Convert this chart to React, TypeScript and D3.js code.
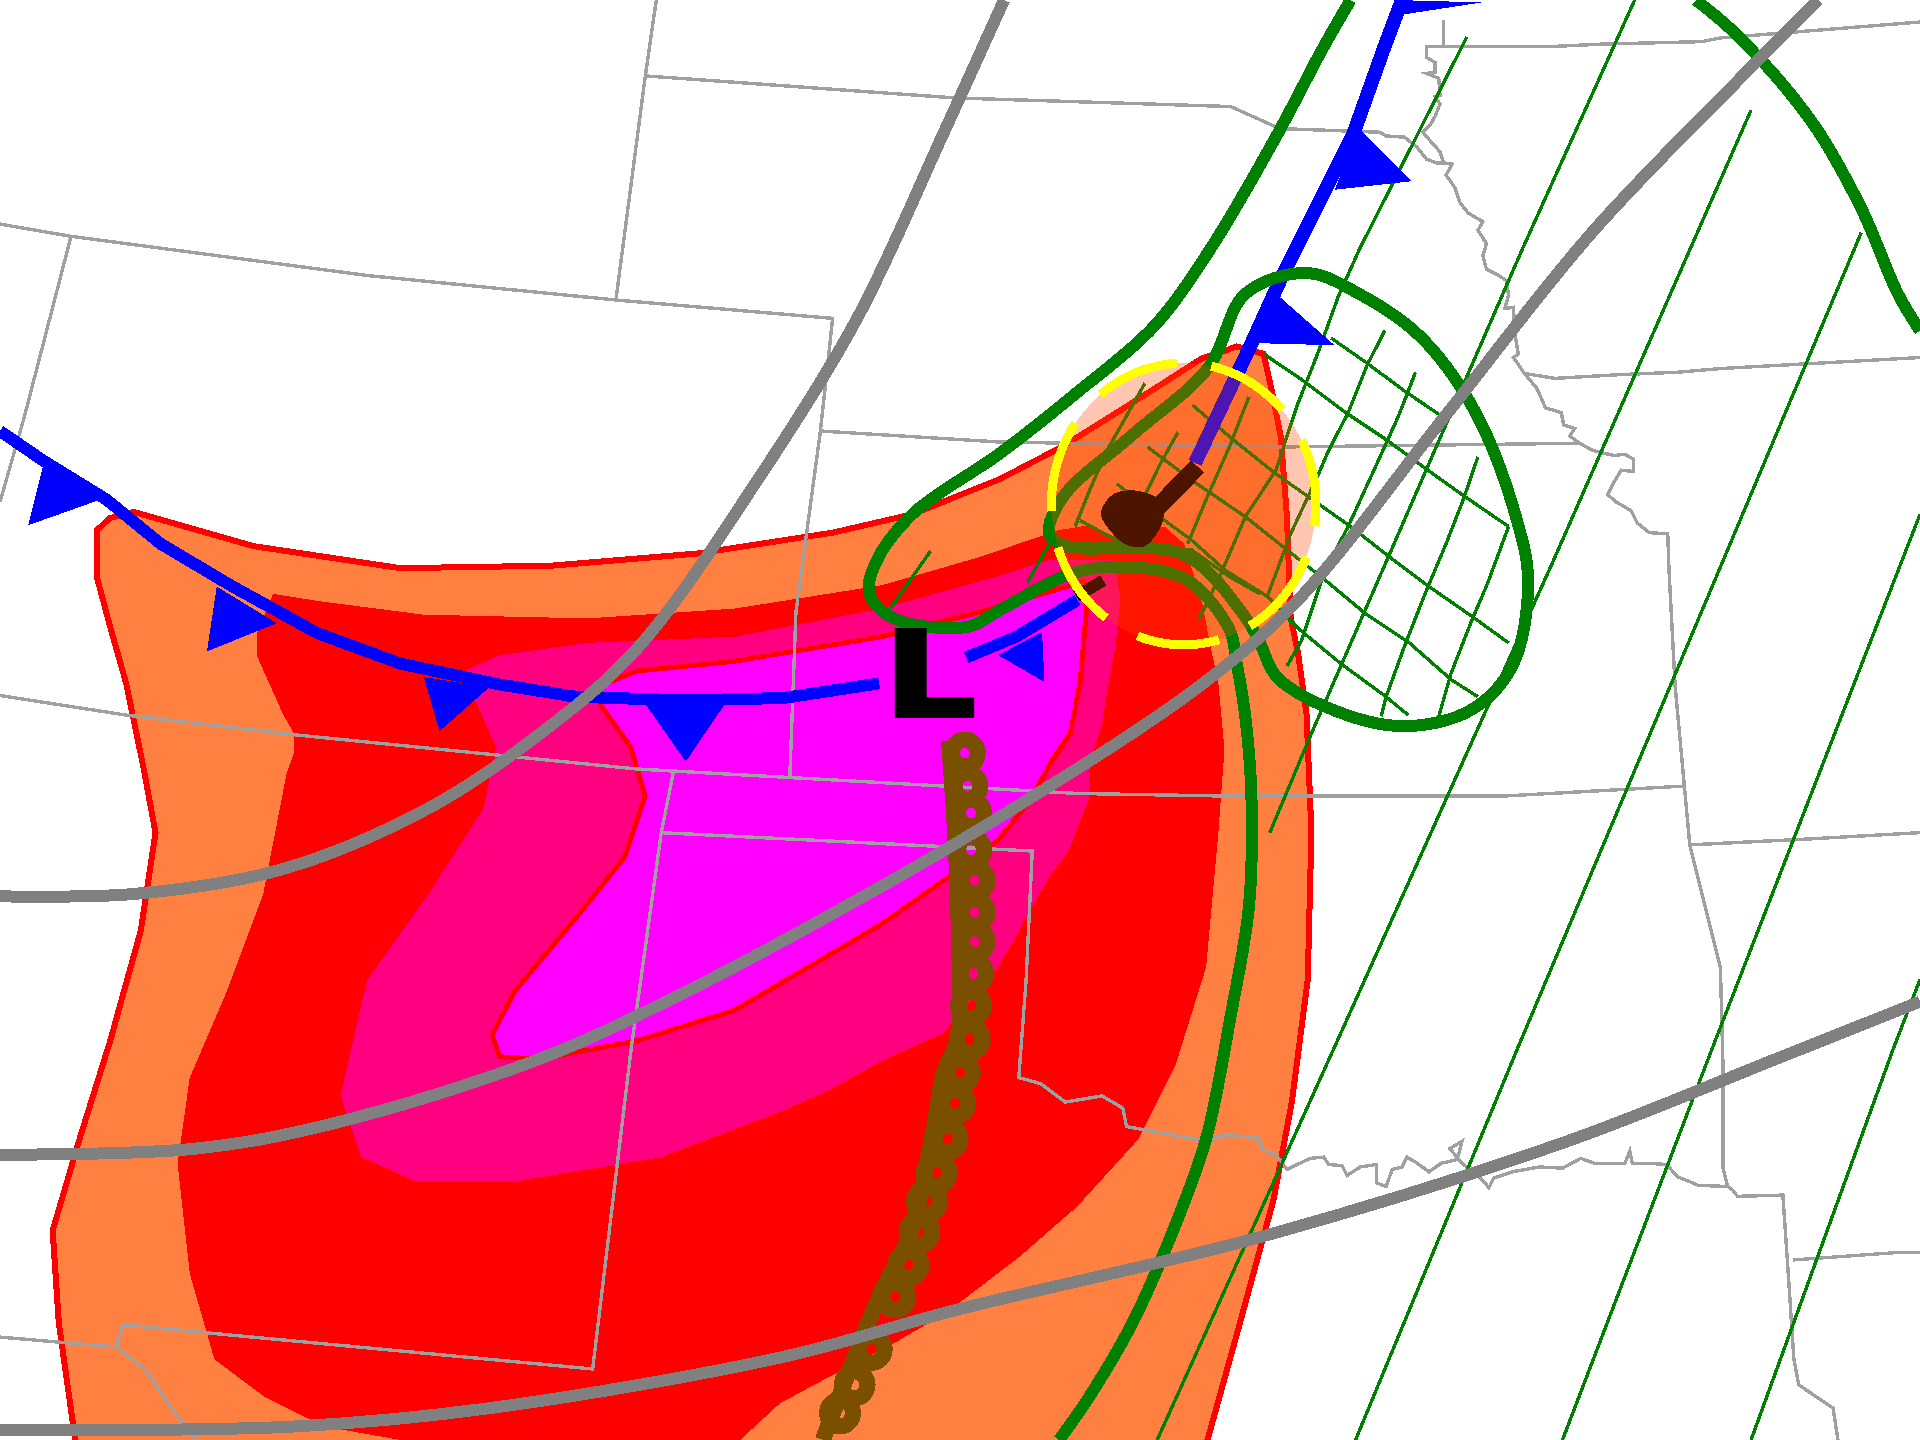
import React from "react";
import * as d3 from "d3";

type P = [number, number];

const WIDTH = 1920, HEIGHT = 1440;
const srcW = 1568, srcH = 1176;

const orangeArea: P[] = [[90,423],[109,418],[207,446],[327,464],[450,462],[570,452],[680,435],[745,420],[817,391],[867,365],[920,332],[981,293],[1010,283],[1032,289],[1039,321],[1046,357],[1051,422],[1054,504],[1060,533],[1067,583],[1071,680],[1068,800],[1055,900],[1040,980],[1010,1090],[985,1180],[62,1180],[48,1080],[43,1005],[65,930],[90,850],[115,760],[127,680],[117,626],[103,558],[90,512],[79,471],[79,433]];
const redArea: P[] = [[223,485],[261,491],[346,502],[480,505],[600,497],[720,478],[800,455],[864,433],[889,429],[910,438],[951,430],[967,444],[982,493],[988,525],[995,558],[1000,612],[995,680],[985,790],[960,870],[930,930],[880,985],[833,1026],[773,1072],[730,1097],[678,1124],[637,1146],[600,1180],[350,1180],[265,1165],[215,1140],[175,1110],[155,1040],[145,950],[155,880],[185,810],[215,730],[234,632],[240,615],[240,599],[231,583],[210,536],[210,517]];
const pinkArea: P[] = [[381,547],[408,535],[480,525],[600,520],[720,497],[817,470],[857,457],[910,457],[915,490],[911,528],[904,565],[900,592],[890,622],[889,653],[873,694],[857,716],[838,749],[827,770],[813,793],[770,844],[721,866],[678,890],[637,908],[540,945],[420,965],[340,965],[295,945],[278,895],[300,800],[350,730],[395,660],[405,610],[389,574],[375,555]];
const magentaArea: P[] = [[490,560],[520,548],[600,540],[720,520],[800,500],[885,475],[888,490],[882,558],[874,599],[858,623],[842,653],[815,686],[775,716],[721,754],[694,770],[600,825],[520,850],[440,865],[408,863],[402,845],[420,810],[470,750],[510,700],[527,650],[515,610],[490,575]];

const stateLines: P[][] = [
  [[536,0],[527,62],[503,245]],
  [[527,62],[780,80],[1005,87],[1045,105],[1127,108],[1132,111],[1147,112],[1157,120],[1165,130],[1173,133],[1186,134]],
  [[0,183],[58,193],[300,225],[503,245],[680,260],[670,352],[650,500],[645,635]],
  [[58,193],[20,340],[0,410]],
  [[670,352],[817,361],[1050,365],[1290,362]],
  [[1179,16],[1179,38]],
  [[1568,18],[1405,31],[1390,34],[1309,36],[1267,38],[1165,38],[1165,47],[1172,51],[1172,59],[1165,60],[1175,64],[1176,78],[1172,79],[1176,85],[1172,95],[1168,102],[1162,108],[1168,115],[1176,124],[1179,133],[1186,134],[1181,143],[1188,153],[1192,165],[1199,174],[1211,181],[1207,188],[1214,199],[1211,209],[1214,220],[1224,225],[1230,229],[1232,241],[1229,252],[1236,251],[1237,272],[1240,289],[1236,292],[1245,305],[1255,317],[1260,328],[1262,333],[1275,337],[1277,347],[1286,350],[1282,356],[1290,362],[1301,368],[1318,372],[1327,371],[1334,375],[1334,385],[1324,384],[1318,394],[1313,404],[1320,410],[1332,417],[1337,427],[1347,435],[1362,436],[1363,465],[1368,560],[1380,690],[1405,790],[1407,866],[1407,953],[1411,969],[1415,972],[1419,977],[1456,976],[1460,1034],[1465,1110],[1469,1131],[1497,1150],[1501,1176]],
  [[1245,305],[1270,309],[1322,306],[1370,304],[1405,301],[1568,292]],
  [[0,568],[103,584],[240,600],[520,628],[645,635],[880,648],[995,650],[1230,650],[1375,642]],
  [[1380,690],[1480,685],[1568,680]],
  [[1464,1029],[1548,1023],[1568,1023]],
  [[550,630],[540,680],[515,860],[484,1118],[100,1082],[95,1100],[0,1092]],
  [[95,1100],[120,1120],[140,1150],[160,1176]],
  [[540,680],[843,695],[838,800],[832,880],[850,885],[870,900],[900,895],[917,905],[920,920],[975,930],[987,932],[999,927],[1027,929],[1031,939],[1042,943],[1051,955],[1070,946],[1081,945],[1085,951],[1096,952],[1100,960],[1111,953],[1124,951],[1124,966],[1132,969],[1137,955],[1145,953],[1149,945],[1156,949],[1167,957],[1177,950],[1190,947],[1194,932],[1184,938],[1194,950],[1209,962],[1216,970],[1220,962],[1235,957],[1257,953],[1276,954],[1291,946],[1302,950],[1327,950],[1331,940],[1333,950],[1346,950],[1361,951],[1370,961],[1387,968],[1411,969]],
];

const hatchSteep: P[][] = [
  [[1198,30],[1110,204],[1093,242],[1076,289],[1059,332],[1042,384],[1017,422],[996,471],[979,506]],
  [[1131,270],[1117,297],[1101,337],[1085,368],[1076,389],[1054,436],[1035,487]],
  [[1156,304],[1142,340],[1117,395],[1101,430],[1082,466],[1063,523],[1051,544]],
  [[1207,373],[1195,408],[1181,444],[1165,482],[1148,525],[1132,569],[1128,585]],
  [[1232,430],[1215,476],[1201,509],[1185,550],[1175,585]],
  [[1020,324],[1004,365],[985,408],[970,444]],
  [[962,353],[948,378],[932,411],[917,444]],
  [[935,313],[904,368],[890,400],[878,430]],
  [[857,444],[839,476]],
  [[760,450],[727,497]],
];
const hatchShallow: P[][] = [
  [[1032,289],[1063,310],[1099,337],[1132,359],[1173,389],[1197,406],[1232,430]],
  [[1087,276],[1117,297],[1148,320],[1182,343]],
  [[974,331],[1007,359],[1042,387],[1076,411],[1103,430],[1135,455],[1167,479],[1203,504],[1232,525]],
  [[937,365],[973,392],[1017,422],[1051,449],[1085,476],[1115,501],[1151,525],[1185,555],[1207,569]],
  [[912,395],[932,411],[973,441],[1001,466],[1035,487],[1060,513],[1095,542],[1132,569],[1150,584]],
  [[882,425],[917,444],[973,449],[1004,471],[1029,485]],
];
const longThin: P[][] = [
  [[1335,0],[1243,204],[1071,599],[1037,680]],
  [[1430,90],[1269,457],[1089,857],[945,1176]],
  [[1520,190],[1239,857],[1107,1176]],
  [[1568,420],[1398,857],[1276,1176]],
  [[1568,800],[1546,857],[1430,1176]],
];

const greenFront: P[] = [[1103,0],[1080,40],[1043,110],[988,204],[942,267],[879,321],[817,370],[745,420],[715,460],[710,485],[730,505],[790,512],[817,498],[876,468],[923,463],[970,474],[1004,514],[1010,542],[1017,585],[1022,650],[1020,740],[1005,830],[985,930],[960,1000],[925,1080],[890,1140],[865,1176]];
const greenLoop: P[] = [[1017,240],[1067,223],[1110,240],[1160,275],[1204,335],[1238,422],[1248,476],[1235,544],[1201,580],[1145,593],[1082,577],[1042,552],[1029,525],[1017,504],[967,453],[871,446],[857,436],[868,406],[925,355],[987,300]];
const greenRight: P[] = [[1385,0],[1420,30],[1480,100],[1520,170],[1550,240],[1568,270]];

const blueWest: P[] = [[0,352],[35,376],[87,408],[131,444],[190,479],[259,517],[327,542],[408,559],[470,569],[560,572],[640,570],[718,558]];
const blueEast: P[] = [[789,537],[830,520],[880,490]];
const blueNorth: P[] = [[1145,0],[1130,40],[1105,110],[1075,170],[1045,230],[1020,285],[976,378]];
const blueTeeth: P[][] = [
  [[23,429],[35,381],[82,408]],
  [[169,532],[177,479],[226,509]],
  [[359,597],[346,553],[400,561]],
  [[560,622],[527,575],[592,575]],
  [[815,535],[851,516],[853,557]],
  [[1140,0],[1145,12],[1210,2]],
  [[1110,105],[1090,155],[1153,148]],
  [[1040,238],[1018,280],[1090,282]],
];

const trackLine: P[] = [[935,425],[978,381]];
const trackLineLow: P[] = [[879,487],[901,474]];
const trackBlob: P[] = [[899,419],[910,403],[930,401],[946,408],[950,424],[935,446],[920,445],[908,435]];

const brownLoops: P[] = [[788,615],[790,642],[793,664],[793,694],[796,719],[796,745],[796,769],[795,795],[793,821],[792,849],[784,876],[780,901],[774,930],[765,958],[757,981],[751,1006],[742,1033],[731,1059],[712,1102],[698,1131],[686,1154]];
const brownSpine: P[] = [[775,605],[780,680],[783,760],[782,849],[771,876],[761,930],[744,1006],[718,1059],[672,1176]];

const greyTrackA: P[] = [[820,0],[770,110],[700,260],[620,390],[520,530],[440,600],[350,660],[230,710],[110,730],[0,732]];
const greyTrackB: P[] = [[1485,0],[1430,55],[1300,190],[1180,340],[1060,490],[980,560],[820,665],[700,735],[560,810],[440,865],[270,918],[160,938],[0,943]];
const greyTrackC: P[] = [[1568,818],[1450,865],[1280,932],[1030,1010],[780,1070],[640,1108],[400,1150],[240,1165],[0,1168]];

const ringCentre: P = [966.7, 411.6];
const ringRadii: P = [108, 115];
const ringDashes: P[] = [[231,268],[282,319],[333,369],[22,60],[74.5,112],[126,163],[177,216]];

const labelText = "L";

const x = d3.scaleLinear().domain([0, srcW]).range([0, WIDTH]);
const y = d3.scaleLinear().domain([0, srcH]).range([0, HEIGHT]);
const straight = d3.line<P>().x((d) => x(d[0])).y((d) => y(d[1]));
const smooth = d3.line<P>().x((d) => x(d[0])).y((d) => y(d[1])).curve(d3.curveCatmullRom.alpha(0.5));
const smoothClosed = d3.line<P>().x((d) => x(d[0])).y((d) => y(d[1])).curve(d3.curveCatmullRomClosed.alpha(0.5));

const ringPoint = (deg: number): P => {
  const t = (deg * Math.PI) / 180;
  return [ringCentre[0] + ringRadii[0] * Math.cos(t), ringCentre[1] + ringRadii[1] * Math.sin(t)];
};
const dashPath = ([a, b]: P) => straight(d3.range(a, b + 0.5, 2).map(ringPoint)) as string;

export default function App() {
  return (
    <svg width={WIDTH} height={HEIGHT} viewBox={`0 0 ${WIDTH} ${HEIGHT}`} style={{ position: "fixed", left: 0, top: 0, background: "#fff" }} shapeRendering="crispEdges">
      <rect width={WIDTH} height={HEIGHT} fill="#fff" />
      <path d={straight(orangeArea)! + "Z"} fill="#ff8040" stroke="#ff0000" strokeWidth={6} />
      <path d={straight(redArea)! + "Z"} fill="#ff0000" />
      <path d={straight(pinkArea)! + "Z"} fill="#ff0080" />
      <path d={straight(magentaArea)! + "Z"} fill="#ff00ff" stroke="#ff0000" strokeWidth={5} />

      {stateLines.map((l, i) => <path key={i} d={straight(l)!} fill="none" stroke="#a0a0a0" strokeWidth={3.4} />)}

      {[...hatchSteep, ...hatchShallow].map((l, i) => <path key={i} d={straight(l)!} fill="none" stroke="#008000" strokeWidth={3.4} />)}
      {longThin.map((l, i) => <path key={i} d={straight(l)!} fill="none" stroke="#008000" strokeWidth={3.4} />)}

      <path d={straight(blueWest)!} fill="none" stroke="#0000ff" strokeWidth={12} />
      <path d={straight(blueEast)!} fill="none" stroke="#0000ff" strokeWidth={12} />
      <path d={straight(blueNorth)!} fill="none" stroke="#0000ff" strokeWidth={14} />
      {blueTeeth.map((t, i) => <path key={i} d={straight(t)! + "Z"} fill="#0000ff" />)}

      <path d={smooth(greenFront)!} fill="none" stroke="#008000" strokeWidth={12} />
      <path d={smoothClosed(greenLoop)!} fill="none" stroke="#008000" strokeWidth={12} />
      <path d={smooth(greenRight)!} fill="none" stroke="#008000" strokeWidth={12} />

      <text transform={`translate(884,${y(585)}) scale(1.22,1)`} fontFamily="DejaVu Sans" fontWeight="bold" fontSize={118} fill="#000" stroke="#000" strokeWidth={4}>{labelText}</text>

      <path d={straight(trackLine)!} fill="none" stroke="#000" strokeWidth={18} />
      <path d={straight(trackLineLow)!} fill="none" stroke="#000" strokeWidth={12} />
      <path d={smoothClosed(trackBlob)!} fill="#000" />

      <path d={smooth(brownSpine)!} fill="none" stroke="#7a5000" strokeWidth={16} />
      {brownLoops.map((c, i) => <ellipse key={i} cx={x(c[0])} cy={y(c[1])} rx={x(10.5)} ry={y(11)} fill="none" stroke="#7a5000" strokeWidth={16} />)}

      <ellipse cx={x(ringCentre[0])} cy={y(ringCentre[1])} rx={x(ringRadii[0])} ry={y(ringRadii[1])} fill="rgb(255,70,0)" fillOpacity={0.3} />

      {[greyTrackA, greyTrackB, greyTrackC].map((l, i) => <path key={i} d={smooth(l)!} fill="none" stroke="#808080" strokeWidth={12} />)}

      {ringDashes.map((d, i) => <path key={i} d={dashPath(d)} fill="none" stroke="#ffff00" strokeWidth={9} />)}
    </svg>
  );
}
